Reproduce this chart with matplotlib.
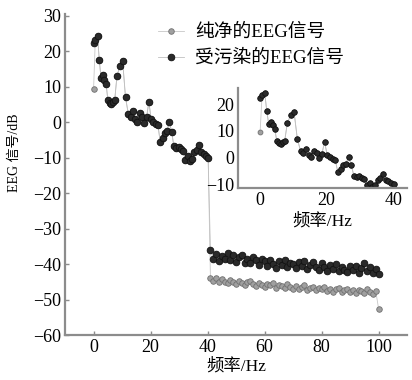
import matplotlib.pyplot as plt
import numpy as np

plt.rcParams['font.family'] = ['Liberation Serif', 'Noto Sans CJK SC']
plt.rcParams['axes.unicode_minus'] = True

# 0-40 Hz: both signals coincide except the first clean bin
f_low = [0.0, 0.6, 1.4, 2.0, 2.6, 3.2, 3.8, 4.4, 5.0, 5.6,
         6.2, 6.8, 7.4, 8.2, 9.2, 10.2, 11.2, 12.2, 13.0, 13.8,
         14.6, 15.4, 16.2, 17.0, 17.8, 18.6, 19.4, 20.2, 21.0, 21.8,
         22.6, 23.4, 24.2, 25.0, 25.8, 26.6, 27.4, 28.2, 29.0, 29.8,
         30.6, 31.4, 32.2, 33.0, 33.8, 34.6, 35.4, 36.2, 37.0, 37.8,
         38.6, 39.4, 40.2]
dirty_low = [22.3, 23.3, 24.2, 17.5, 12.5, 13.3, 12.0, 10.8, 6.3, 5.5,
             5.2, 5.8, 6.2, 13.0, 15.8, 17.2, 7.0, 2.3, 1.5, 3.3,
             1.0, 0.2, 2.6, 1.6, -0.2, 1.4, 5.8, 0.8, 0.2, -0.4,
             -0.9, -5.6, -4.3, -3.0, -2.4, 0.2, -2.8, -6.8, -7.3, -7.0,
             -7.6, -8.2, -10.5, -9.6, -11.0, -10.3, -8.4, -7.8, -6.3, -8.5,
             -9.0, -9.6, -10.1]
clean_low = [9.5] + dirty_low[1:]

# 41-100 Hz
f_high = list(range(41, 101))
dirty_high = [-36.0, -38.5, -37.2, -39.0, -37.8, -38.6, -36.9, -38.9, -37.5, -39.4,
              -38.0, -37.3, -39.6, -38.4, -39.8, -37.9, -38.8, -40.1, -38.5, -39.2,
              -40.4, -38.7, -39.9, -41.0, -39.1, -40.3, -38.9, -40.8, -39.6, -40.0,
              -41.2, -39.4, -40.6, -39.0, -41.4, -40.2, -39.5, -40.9, -41.6, -39.8,
              -40.7, -41.9, -40.1, -41.3, -39.9, -42.0, -40.8, -41.5, -42.3, -40.4,
              -41.7, -40.6, -42.5, -41.2, -39.6, -41.8, -40.9, -42.6, -41.4, -42.8]
clean_high = [-43.8, -44.6, -44.0, -45.1, -44.3, -44.9, -45.4, -44.5, -45.0, -45.6,
              -44.7, -45.3, -45.9, -45.0, -44.6, -45.7, -46.1, -45.2, -45.8, -46.3,
              -45.5, -46.0, -45.3, -46.6, -45.9, -46.2, -46.8, -45.7, -46.4, -46.9,
              -46.1, -47.0, -46.5, -45.9, -47.2, -46.7, -46.3, -47.4, -46.8, -47.1,
              -46.4, -47.5, -46.9, -47.7, -47.1, -46.6, -47.8, -47.3, -46.9, -47.9,
              -47.4, -48.0, -47.2, -47.6, -48.2, -47.0, -47.9, -48.3, -47.5, -52.5]

freq = np.array(f_low + f_high)
clean = np.array(clean_low + clean_high)
dirty = np.array(dirty_low + dirty_high)

labels = ['纯净的EEG信号', '受污染的EEG信号']

gray_style = dict(color='#c8c8c8', lw=0.6, marker='o', ms=4,
                  mfc='#a0a0a0', mec='#707070', mew=0.6)
dark_style = dict(color='#c0c0c0', lw=0.6, marker='o', ms=4.8,
                  mfc='#2a2a2a', mec='#111111', mew=0.6)


def style_axes(ax, fs):
    for s in ['top', 'right']:
        ax.spines[s].set_visible(False)
    for s in ['left', 'bottom']:
        ax.spines[s].set_color('#8c8c8c')
        ax.spines[s].set_linewidth(1.6)
    ax.tick_params(direction='in', length=3, width=1, color='#8c8c8c',
                   labelsize=fs, pad=3)


fig = plt.figure(figsize=(4.12, 3.80), dpi=100)
ax = fig.add_axes([0.158, 0.118, 0.83, 0.845])
ax.plot(freq, clean, label=labels[0], **gray_style)
ax.plot(freq, dirty, label=labels[1], **dark_style)
ax.set_xlim(-10, 110)
ax.set_ylim(-60, 30.5)
ax.set_xticks(np.arange(0, 101, 20))
ax.set_yticks(np.arange(-60, 31, 10))
style_axes(ax, 13)
ax.set_xlabel('频率/Hz', fontsize=12.5, labelpad=1)
ax.set_ylabel('EEG 信号/dB', fontsize=10)
ax.yaxis.set_label_coords(-0.13, 0.567)
fig.legend(loc='upper left', bbox_to_anchor=(158 / 412, 1 - 24 / 380),
           frameon=False, fontsize=13.5, handlelength=1.4, handletextpad=0.6,
           labelspacing=0.45, borderpad=0, borderaxespad=0)

ins = fig.add_axes([0.578, 0.505, 0.41, 0.263])
ins.set_facecolor('white')
ins.plot(freq, clean, **dict(gray_style, ms=3.5))
ins.plot(freq, dirty, **dict(dark_style, ms=4))
ins.set_xlim(-6.6, 44.2)
ins.set_ylim(-11.5, 26)
ins.set_xticks([0, 20, 40])
ins.set_yticks([-10, 0, 10, 20])
style_axes(ins, 13)
ins.tick_params(length=0)
ins.set_xlabel('频率/Hz', fontsize=12.5, labelpad=3)

fig.savefig('out.png', dpi=100)
